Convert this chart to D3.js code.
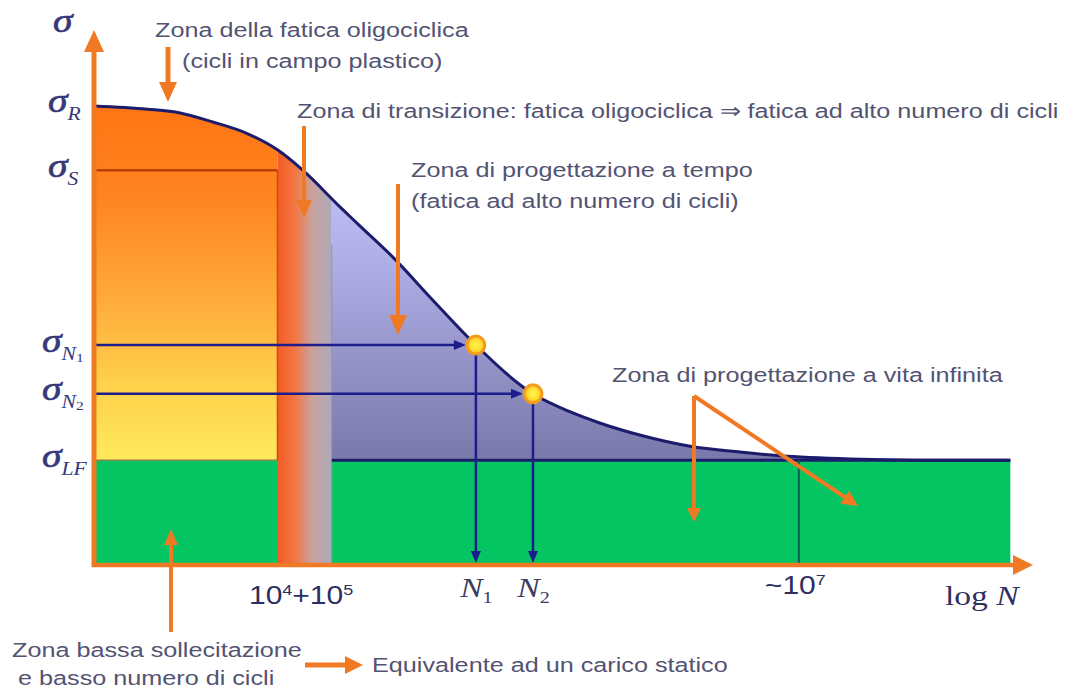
<!DOCTYPE html>
<html>
<head>
<meta charset="utf-8">
<script src="https://cdn.jsdelivr.net/npm/d3@7"></script>
<style>
  body { margin: 0; background: #fff; }
  svg { display: block; }
</style>
</head>
<body>
<svg id="chart"></svg>
<script>
// Wöhler curve (schematic): log N and sigma both in % of the axis length
const curveLogN  = [0, 5.7, 9.2, 12.7, 16.3, 19.6, 22.3, 26.3, 28.4, 31.9, 36.2, 40.8, 46.9, 50.9, 54.1, 58.3, 63.7, 69.0, 73.3, 80.8, 88.0, 97.9];
const curveSigma = [85.8, 85.2, 84.5, 82.8, 80.7, 77.6, 73.8, 66.9, 63.4, 57.6, 49.5, 41.1, 32.0, 28.6, 26.5, 24.3, 22.2, 21.1, 20.4, 19.8, 19.6, 19.6];

// stress levels on the y axis
const sigmaNames  = ["R", "S", "N_1", "N_2", "LF"];
const sigmaValues = [85.8, 73.8, 41.1, 32.0, 19.6];

// zone limits along log N
const transitionZone = [19.6, 25.4];
const infiniteLife = 75.3;
const curveEnd = 97.9;

// the two design points
const pointNames = ["N_1", "N_2"];
const pointLogN  = [40.8, 46.9];
const pointSigma = [41.1, 32.0];

// x axis labels
const xTickValues = [22.5, 40.8, 46.9, 75.3];
const xTickLabels = ["10^4+10^5", "N_1", "N_2", "~10^7"];

const width = 1075;
const height = 690;
const orange = "#f07a24";
const navy = "#1c1c8a";
const textColor = "#535372";

const svg = d3.select("#chart").attr("width", width).attr("height", height);
const defs = svg.append("defs");

const x = d3.scaleLinear().domain([0, 100]).range([94, 1030]);
const y = d3.scaleLinear().domain([0, 100]).range([565, 30]);

const sLF = sigmaValues[4];
const sS = sigmaValues[1];

// gradients
const linGrad = (id, attrs, stops) => {
  const g = defs.append("linearGradient").attr("id", id).attr("gradientUnits", "userSpaceOnUse");
  Object.entries(attrs).forEach(([k, v]) => g.attr(k, v));
  stops.forEach(([o, c]) => g.append("stop").attr("offset", o).attr("stop-color", c));
}
linGrad("gOrange", {x1: 0, x2: 0, y1: y(86), y2: y(sLF)},
  [[0, "#ff7412"], [0.27, "#ff8522"], [0.55, "#ffab3c"], [0.78, "#ffd04a"], [1, "#ffea5c"]]);
linGrad("gBlue", {x1: 0, x2: 0, y1: y(80), y2: y(sLF)},
  [[0, "#c8c8ff"], [0.4, "#aeaee6"], [1, "#7878aa"]]);
linGrad("gBand", {x1: x(transitionZone[0]), x2: x(transitionZone[1]), y1: 0, y2: 0},
  [[0, "#f35c25"], [0.3, "#f4743f"], [0.65, "#c9a3a0"], [1, "#abaab8"]]);
const rg = defs.append("radialGradient").attr("id", "gPoint");
rg.append("stop").attr("offset", 0).attr("stop-color", "#fff64c");
rg.append("stop").attr("offset", 0.6).attr("stop-color", "#ffe030");
rg.append("stop").attr("offset", 1).attr("stop-color", "#ffb428");

const clipX = (id, a, b) => {
  defs.append("clipPath").attr("id", id).append("rect")
    .attr("x", x(a)).attr("y", 0).attr("width", x(b) - x(a)).attr("height", height);
}
clipX("clipLow", 0, transitionZone[0]);
clipX("clipBand", transitionZone[0], transitionZone[1]);
clipX("clipHigh", transitionZone[1], curveEnd);

const pts = curveLogN.map((v, i) => [v, curveSigma[i]]);
const line = d3.line().x(d => x(d[0])).y(d => y(d[1])).curve(d3.curveMonotoneX);
const areaTo = base => d3.area().x(d => x(d[0])).y0(y(base)).y1(d => y(d[1])).curve(d3.curveMonotoneX);

// green zone below the fatigue limit
svg.append("rect")
  .attr("x", x(0)).attr("y", y(sLF))
  .attr("width", x(curveEnd) - x(0)).attr("height", y(0) - y(sLF))
  .attr("fill", "#05c562");

svg.append("path").attr("d", areaTo(sLF)(pts)).attr("fill", "url(#gOrange)").attr("clip-path", "url(#clipLow)");
svg.append("path").attr("d", areaTo(sLF)(pts)).attr("fill", "url(#gBlue)").attr("clip-path", "url(#clipHigh)");
svg.append("path").attr("d", areaTo(0)(pts)).attr("fill", "url(#gBand)").attr("clip-path", "url(#clipBand)");

// zone edges and reference lines
svg.append("line")
  .attr("x1", x(transitionZone[0])).attr("x2", x(transitionZone[0]))
  .attr("y1", y(sS)).attr("y2", y(sLF))
  .attr("stroke", "#d24c12").attr("stroke-width", 1.5);
svg.append("line")
  .attr("x1", x(transitionZone[1])).attr("x2", x(transitionZone[1]))
  .attr("y1", y(60)).attr("y2", y(0))
  .attr("stroke", "#8f8fb0").attr("stroke-width", 1);
svg.append("line")
  .attr("x1", x(0)).attr("x2", x(transitionZone[0]))
  .attr("y1", y(sS)).attr("y2", y(sS))
  .attr("stroke", "#b8400c").attr("stroke-width", 2.5);
svg.append("line")
  .attr("x1", x(0)).attr("x2", x(transitionZone[0]))
  .attr("y1", y(sLF)).attr("y2", y(sLF))
  .attr("stroke", "#8a7448").attr("stroke-width", 1.2);
svg.append("line")
  .attr("x1", x(transitionZone[1])).attr("x2", x(curveEnd))
  .attr("y1", y(sLF)).attr("y2", y(sLF))
  .attr("stroke", "#1c1c6c").attr("stroke-width", 3);
svg.append("line")
  .attr("x1", x(infiniteLife)).attr("x2", x(infiniteLife))
  .attr("y1", y(sLF)).attr("y2", y(0))
  .attr("stroke", "#175a55").attr("stroke-width", 2);

// the curve
svg.append("path").attr("d", line(pts))
  .attr("fill", "none").attr("stroke", "#1c1c6c").attr("stroke-width", 3);

const arrow = (g, x1, y1, x2, y2, color, w, hl, hw) => {
  const L = Math.hypot(x2 - x1, y2 - y1), ux = (x2 - x1) / L, uy = (y2 - y1) / L;
  const bx = x2 - ux * hl, by = y2 - uy * hl;
  g.append("line").attr("x1", x1).attr("y1", y1).attr("x2", bx + ux).attr("y2", by + uy)
    .attr("stroke", color).attr("stroke-width", w);
  g.append("path")
    .attr("d", `M${x2},${y2}L${bx - uy * hw / 2},${by + ux * hw / 2}L${bx + uy * hw / 2},${by - ux * hw / 2}Z`)
    .attr("fill", color);
}

// sigma_N -> N arrows
const r = 9;
pointLogN.forEach((n, i) => {
  const px = x(n), py = y(pointSigma[i]);
  arrow(svg, x(0), py, px - r - 1, py, navy, 2.5, 12, 10);
  arrow(svg, px, py + r, px, y(0) - 2, navy, 2.5, 12, 10);
});
svg.selectAll("circle.pt")
  .data(pointLogN)
  .enter()
  .append("circle")
  .attr("class", "pt")
  .attr("cx", d => x(d))
  .attr("cy", (d, i) => y(pointSigma[i]))
  .attr("r", r)
  .attr("fill", "url(#gPoint)")
  .attr("stroke", "#f59a1e")
  .attr("stroke-width", 3);

// orange axes
arrow(svg, x(0), y(0) + 2, x(0), 30, orange, 5, 22, 20);
arrow(svg, x(0) - 2, y(0), 1033, y(0), orange, 4.5, 20, 20);

// orange annotation arrows
arrow(svg, 168, 47, 168, 102, orange, 5, 20, 18);
arrow(svg, 304, 126, 304, 218, orange, 4, 18, 16);
arrow(svg, 398, 184, 398, 335, orange, 4, 20, 18);
arrow(svg, 694, 396, 694, 522, orange, 4, 14, 14);
arrow(svg, 694, 396, 858, 506, orange, 4, 16, 16);
arrow(svg, 171, 632, 171, 529, orange, 4, 16, 14);
arrow(svg, 305, 665, 363, 665, orange, 5, 18, 18);

// text helpers (picture is stretched ~1.2 horizontally)
const stretched = (px, py) =>
  svg.append("g").attr("transform", `translate(${px},${py}) scale(1.2,1)`).append("text");

const rich = (t, str, size, subUpright) => {
  let shift = 0;
  str.split(/(\^.|_.)/).filter(s => s).forEach(tok => {
    const ts = t.append("tspan");
    if (tok[0] === "^" || tok[0] === "_") {
      const d = tok[0] === "^" ? -size * 0.38 : size * 0.22;
      ts.text(tok[1]).attr("font-size", size * 0.6).attr("dy", d - shift);
      if (subUpright) ts.attr("font-style", "normal");
      shift = d;
    } else {
      ts.text(tok).attr("dy", -shift);
      shift = 0;
    }
  });
}

const serif = "'Liberation Serif', 'DejaVu Serif', serif";
const sans = "'Liberation Sans', Arial, sans-serif";
const sigmaColor = "#37377a";

// y axis (sigma levels)
const yAxis = svg.append("g")
  .attr("transform", `translate(${x(0)},0)`)
  .call(d3.axisLeft(y).tickValues(sigmaValues).tickSize(0));
yAxis.select(".domain").remove();
yAxis.selectAll(".tick text").remove();
yAxis.selectAll(".tick").each(function (d, i) {
  const name = sigmaNames[i];
  const g = d3.select(this).append("g")
    .attr("transform", `translate(${name.length > 1 ? -52 : -46},6) scale(1.2,1)`);
  const t = g.append("text")
    .attr("text-anchor", "start")
    .attr("font-family", serif).attr("font-style", "italic")
    .attr("fill", sigmaColor).attr("font-size", 33);
  t.append("tspan").text("σ").attr("stroke", sigmaColor).attr("stroke-width", 0.6);
  const sub = t.append("tspan").attr("dy", 8).attr("font-size", 18);
  const parts = name.split("_");
  sub.text(parts[0]);
  if (parts[1]) t.append("tspan").text(parts[1]).attr("font-size", 13).attr("font-style", "normal").attr("dy", 2);
});

// x axis labels
const xLabelDy = [39, 32, 32, 29];
const xAxis = svg.append("g")
  .attr("transform", `translate(0,${y(0)})`)
  .call(d3.axisBottom(x).tickValues(xTickValues).tickSize(0));
xAxis.select(".domain").remove();
xAxis.selectAll(".tick text").remove();
xAxis.selectAll(".tick").each(function (d, i) {
  const lab = xTickLabels[i];
  const isN = lab[0] === "N";
  const t = d3.select(this).append("g")
    .attr("transform", `translate(${isN ? 0 : -4},${xLabelDy[i]}) scale(1.2,1)`)
    .append("text")
    .attr("text-anchor", "middle")
    .attr("fill", isN ? "#3c3c62" : "#2e2e60")
    .attr("font-family", isN ? serif : sans)
    .attr("font-style", isN ? "italic" : "normal")
    .attr("font-size", isN ? 28 : 25);
  rich(t, lab, isN ? 28 : 25, isN);
});

// axis titles
stretched(53, 32).attr("font-family", serif).attr("font-style", "italic")
  .attr("font-size", 33).attr("fill", sigmaColor)
  .attr("stroke", sigmaColor).attr("stroke-width", 0.6).text("σ");
const logN = stretched(945, 605).attr("font-family", serif).attr("font-size", 28).attr("fill", "#303060");
logN.append("tspan").text("log ");
logN.append("tspan").attr("font-style", "italic").text("N");

// zone annotations
const notes = [
  ["Zona della fatica oligociclica", 155, 37],
  ["(cicli in campo plastico)", 182, 68],
  ["Zona di transizione: fatica oligociclica ⇒ fatica ad alto numero di cicli", 297, 118],
  ["Zona di progettazione a tempo", 411, 177],
  ["(fatica ad alto numero di cicli)", 411, 208],
  ["Zona di progettazione a vita infinita", 612, 382],
  ["Zona bassa sollecitazione", 12, 657],
  ["e basso numero di cicli", 18, 685],
  ["Equivalente ad un carico statico", 372, 672]
];
notes.forEach(([s, px, py]) => {
  stretched(px, py).attr("font-family", sans).attr("font-size", 21)
    .attr("fill", textColor).text(s);
});
</script>
</body>
</html>
